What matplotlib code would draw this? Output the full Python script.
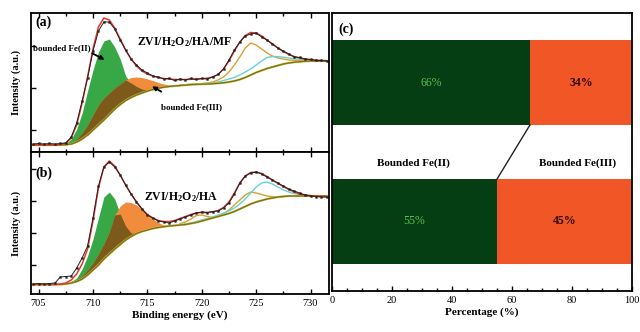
import matplotlib
matplotlib.use("Agg")
import matplotlib.pyplot as plt
import numpy as np

plt.rcParams['font.family'] = ['Liberation Serif', 'DejaVu Serif']
plt.rcParams['mathtext.fontset'] = 'custom'
plt.rcParams['mathtext.rm'] = 'Liberation Serif'
plt.rcParams['mathtext.bf'] = 'Liberation Serif:bold'
plt.rcParams['mathtext.default'] = 'bf'

# ---------------- data: XPS Fe 2p spectra ----------------
energy = [704.5, 705, 705.5, 706, 706.5, 707, 707.5, 708, 708.5, 709, 709.5, 710,
          710.5, 711, 711.5, 712, 712.5, 713, 713.5, 714, 714.5, 715, 715.5, 716,
          716.5, 717, 717.5, 718, 718.5, 719, 719.5, 720, 720.5, 721, 721.5, 722,
          722.5, 723, 723.5, 724, 724.5, 725, 725.5, 726, 726.5, 727, 727.5, 728,
          728.5, 729, 729.5, 730, 730.5, 731, 731.5]
energy_lo = [707, 707.5, 708, 708.5, 709, 709.5, 710, 710.5, 711, 711.5, 712, 712.5,
             713, 713.5, 714, 714.5, 715, 715.5, 716, 716.5, 717, 717.5, 718]
energy_hi = [718, 718.5, 719, 719.5, 720, 720.5, 721, 721.5, 722, 722.5, 723, 723.5,
             724, 724.5, 725, 725.5, 726, 726.5, 727, 727.5, 728, 728.5, 729, 729.5,
             730, 730.5, 731, 731.5]

# panel (a) ZVI/H2O2/HA/MF
bg_a = [8, 8, 8, 8, 8, 8, 8.3, 9, 11, 14, 18, 23, 28, 33, 38.5, 44, 48.5, 52.5, 55.5, 58,
        60, 62, 63.5, 64.8, 65.8, 66.5, 67, 67.5, 67.9, 68.4, 68.6, 68.8, 69, 69.3, 69.7,
        70.2, 71, 72, 73.5, 75.5, 78, 80.5, 82.5, 84.5, 86, 87.5, 89, 90, 90.8, 91.3,
        91.7, 92, 92, 92, 92]
data_a = [9, 9.5, 9, 9.5, 9, 9.5, 10, 16, 30, 52, 75, 102, 122, 131, 131, 124, 113, 103,
          94, 88, 83, 80, 77, 76, 74, 74.5, 72.5, 74, 73, 74.5, 73.5, 74.5, 74, 76, 78.5,
          84, 93, 103, 111, 117, 119, 120, 116, 113, 109, 105, 102, 99, 96, 95.5, 94,
          93.5, 92.5, 92.5, 92]
fit_a = [8, 8, 8, 8, 8, 8.5, 10, 15, 28, 50, 76, 104, 126, 135, 133, 125, 114, 103, 94,
         87, 82, 79, 77, 75.5, 74.5, 74, 73.5, 73.5, 73.5, 73.7, 74, 74.3, 74.8, 76, 78.5,
         84, 92, 102, 111, 117.5, 120.5, 120, 117, 113, 109, 105, 101.5, 98.5, 96.5, 95,
         94, 93.3, 92.8, 92.5, 92.3]
fe2_a = [8, 9.5, 14, 24, 40, 62, 83, 101, 112, 114, 106, 94, 77, 70, 66.5, 64, 62.8, 63.6,
         64.8, 65.8, 66.5, 67, 67.5]
fe3_a = [8, 8.5, 10, 14, 20, 28, 38, 48, 55, 60, 65, 69, 73, 75.5, 76, 75.5, 74, 72.5,
         70.5, 69, 68, 67.5, 67.5]
gold_a = [68, 68.3, 68.6, 69, 69.5, 70, 71, 73, 76, 81, 88, 96, 105, 110, 108, 104, 100,
          97, 95, 94, 93, 92.8, 92.5, 92.3, 92.2, 92.1, 92, 92]
cyan_a = [68, 68.3, 68.6, 68.9, 69.2, 69.6, 70, 71, 72.5, 74, 75.5, 78, 81, 84, 88, 92,
          95.5, 96.5, 96.3, 95.8, 95, 94.3, 93.7, 93.3, 93, 92.6, 92.3, 92]

# panel (b) ZVI/H2O2/HA
bg_b = [9.5, 9.5, 9.5, 9.5, 9.5, 9.5, 10, 11, 12.5, 15, 19, 24, 29, 35, 40, 45, 49.5, 54,
        57.5, 60.5, 62.5, 64, 65.5, 66.5, 67.3, 68, 68.5, 69, 69.5, 70.5, 71.5, 73, 74.5,
        76, 77.5, 79, 80.5, 82.5, 85, 87.5, 90, 92, 93.5, 95, 96, 97, 97.5, 98, 98, 98,
        98, 98, 98, 98, 98]
data_b = [10, 10.5, 10, 10.5, 11, 17, 17.5, 18, 26, 36, 48, 76, 108, 127, 132, 127, 119,
          109, 100, 92, 85, 79, 76, 73, 72, 71, 73, 75, 77, 79, 81, 82, 81.5, 82.5, 83, 86,
          91, 100, 111, 118, 121, 122, 120, 117, 114, 111, 108, 105, 103, 101, 99, 98,
          97.5, 97, 97]
fit_b = [9.5, 9.5, 9.5, 9.5, 9.5, 10, 11, 14, 20, 30, 45, 73, 106, 127, 133, 128, 119,
         109, 100, 92, 85, 79.5, 76, 73.5, 72.5, 72.5, 73.5, 75.5, 77.5, 79.5, 81, 81.5,
         81.5, 82, 83.5, 86.5, 92, 101, 111, 118, 121.5, 122, 120.5, 117.5, 114, 110.5,
         107.5, 104.5, 102, 100, 99, 98.3, 97.8, 97.5, 97.3]
fe2_b = [9.5, 10.5, 12.5, 16, 25, 38, 55, 76, 97, 102, 95, 80, 68, 61, 60.8, 62.5, 64,
         65.5, 66.5, 67.3, 68, 68.5, 69]
fe3_b = [9.5, 10, 11.5, 13.5, 18, 24, 31, 40, 50, 62, 79, 88, 92, 91.5, 89, 84.5, 79, 75,
         71.5, 69, 68.2, 68.5, 69]
gold_b = [70.5, 72, 75, 78.5, 79, 77.5, 76.5, 77.5, 80, 84, 89, 94, 99, 102, 101, 99.5, 98,
          97.3, 97, 97.5, 98, 98, 98, 98, 98, 98, 98, 98]
cyan_b = [69.5, 70, 71, 72.5, 74, 75.5, 77, 79, 81, 83, 86, 90, 95, 101, 107, 111, 112, 110,
          107, 104, 102, 100.5, 99.5, 98.8, 98.4, 98.2, 98, 98]

# ---------------- data: percentage bars ----------------
samples = ['ZVI/H2O2/HA/MF', 'ZVI/H2O2/HA']
fe2_pct = [66, 55]
fe3_pct = [34, 45]
x_ticks_pct = [0, 20, 40, 60, 80, 100]
x_ticks_be = [705, 710, 715, 720, 725, 730]

# ---------------- styles ----------------
C_GREEN = '#38a847'
C_ORANGE = '#f08c3c'
C_BROWN = '#7d5a1b'
C_BG = '#7a6f1c'
C_GOLD = '#d9a033'
C_CYAN = '#66d2d8'
C_RED = '#e8362c'
C_DKGREEN = '#053e13'
C_BARORANGE = '#f05626'

fig = plt.figure(figsize=(6.4, 3.32), dpi=100)
ax_a = fig.add_axes([31/640, 1-152/332, 298/640, 139/332])
ax_b = fig.add_axes([31/640, 1-294/332, 298/640, 142/332])
ax_c = fig.add_axes([332/640, 1-291/332, 300/640, 278/332])

def draw_xps(ax, bg, data, fit, fe2, fe3, gold, cyan):
    E = np.array(energy)
    El = np.array(energy_lo)
    i0 = energy.index(energy_lo[0])
    bgl = np.array(bg[i0:i0+len(energy_lo)])
    g = np.array(fe2)
    o = np.array(fe3)
    ax.fill_between(El, bgl, g, color=C_GREEN, lw=0)
    ax.fill_between(El, bgl, o, color=C_ORANGE, lw=0)
    ax.fill_between(El, bgl, np.minimum(g, o), color=C_BROWN, lw=0)
    ax.plot(energy_hi, gold, color=C_GOLD, lw=1.0)
    ax.plot(energy_hi, cyan, color=C_CYAN, lw=1.0)
    ax.plot(E, bg, color='#c8c040', lw=1.6)
    ax.plot(E, bg, color=C_BG, lw=0.9)
    ax.plot(E, fit, color=C_RED, lw=1.1)
    ax.plot(E, data, color='#222222', lw=0.7, marker='s', ms=1.3, mew=0.3)
    ax.set_xlim(704.3, 731.7)
    ax.set_xticks(x_ticks_be)
    ax.set_xticks([707.5, 712.5, 717.5, 722.5, 727.5], minor=True)
    ax.tick_params(axis='both', which='both', direction='in', top=True, right=False,
                   width=1.0, labelsize=7.5)
    ax.tick_params(which='major', length=3.5)
    ax.tick_params(which='minor', length=2)
    ax.set_yticklabels([])
    for s in ax.spines.values():
        s.set_linewidth(1.3)

draw_xps(ax_a, bg_a, data_a, fit_a, fe2_a, fe3_a, gold_a, cyan_a)
draw_xps(ax_b, bg_b, data_b, fit_b, fe2_b, fe3_b, gold_b, cyan_b)

ax_a.set_ylim(1, 140)
ax_a.set_yticks([23, 65, 107])
ax_a.set_yticklabels([])
ax_a.tick_params(labelbottom=False)
ax_b.set_ylim(0, 142)
ax_b.set_yticks([29, 61, 93, 125])
ax_b.set_yticklabels([])
ax_b.set_xticklabels([str(t) for t in x_ticks_be])

ax_a.text(0.015, 0.935, '(a)', transform=ax_a.transAxes, fontsize=10, fontweight='bold',
          va='center', ha='left')
ax_b.text(0.015, 0.852, '(b)', transform=ax_b.transAxes, fontsize=10, fontweight='bold',
          va='center', ha='left')
ax_a.text(718.4, 111, r'ZVI/H$_2$O$_2$/HA/MF', fontsize=8.5, fontweight='bold',
          ha='center', va='center')
ax_b.text(718.1, 97, r'ZVI/H$_2$O$_2$/HA', fontsize=8.5, fontweight='bold',
          ha='center', va='center')
ax_a.text(704.45, 105, 'bounded Fe(II)', fontsize=6.5, fontweight='bold',
          ha='left', va='center')
ax_a.annotate('', xy=(711.3, 92), xytext=(709.7, 101),
              arrowprops=dict(arrowstyle='-|>', color='k', lw=1.3, mutation_scale=6))
ax_a.text(719.1, 46, 'bounded Fe(III)', fontsize=6.5, fontweight='bold',
          ha='center', va='center')
ax_a.annotate('', xy=(715.2, 68), xytext=(716.5, 60),
              arrowprops=dict(arrowstyle='-|>', color='k', lw=1.3, mutation_scale=6))

ax_a.set_ylabel('Intensity (a.u.)', fontsize=7.5, fontweight='bold', labelpad=4)
ax_b.set_ylabel('Intensity (a.u.)', fontsize=7.5, fontweight='bold', labelpad=4)
ax_b.set_xlabel('Binding energy (eV)', fontsize=8, fontweight='bold', labelpad=2)

# ---------------- panel (c) ----------------
ypos = [0.75, 0.25]
h = 0.305
ax_c.barh(ypos, fe2_pct, height=h, color=C_DKGREEN, lw=0)
ax_c.barh(ypos, fe3_pct, left=fe2_pct, height=h, color=C_BARORANGE, lw=0)
for y, a, b in zip(ypos, fe2_pct, fe3_pct):
    ax_c.text(a/2, y, f'{a}%', color='#5cbf55', fontsize=8.5, ha='center', va='center')
    ax_c.text(a + b/2, y, f'{b}%', color='#2a0800', fontsize=8.5, fontweight='bold',
              ha='center', va='center')
ax_c.plot([fe2_pct[0], fe2_pct[1]], [ypos[0]-h/2, ypos[1]+h/2], color='#222222', lw=1.0)
ax_c.text(27, 0.46, 'Bounded Fe(II)', fontsize=8, fontweight='bold', ha='center', va='center')
ax_c.text(82, 0.46, 'Bounded Fe(III)', fontsize=8, fontweight='bold', ha='center', va='center')
ax_c.text(0.02, 0.942, '(c)', transform=ax_c.transAxes, fontsize=10, fontweight='bold',
          va='center', ha='left')
ax_c.set_xlim(0, 100)
ax_c.set_ylim(0, 1)
ax_c.set_yticks([])
ax_c.set_xticks(x_ticks_pct)
ax_c.set_xticks(np.arange(0, 101, 5), minor=True)
ax_c.tick_params(axis='x', which='both', direction='in', labelsize=7.5, width=1.0)
ax_c.tick_params(which='major', length=3.5)
ax_c.tick_params(which='minor', length=2)
for s in ax_c.spines.values():
    s.set_linewidth(1.3)
ax_c.set_xlabel('Percentage (%)', fontsize=8, fontweight='bold', labelpad=2)

fig.savefig('out.png', dpi=100)
